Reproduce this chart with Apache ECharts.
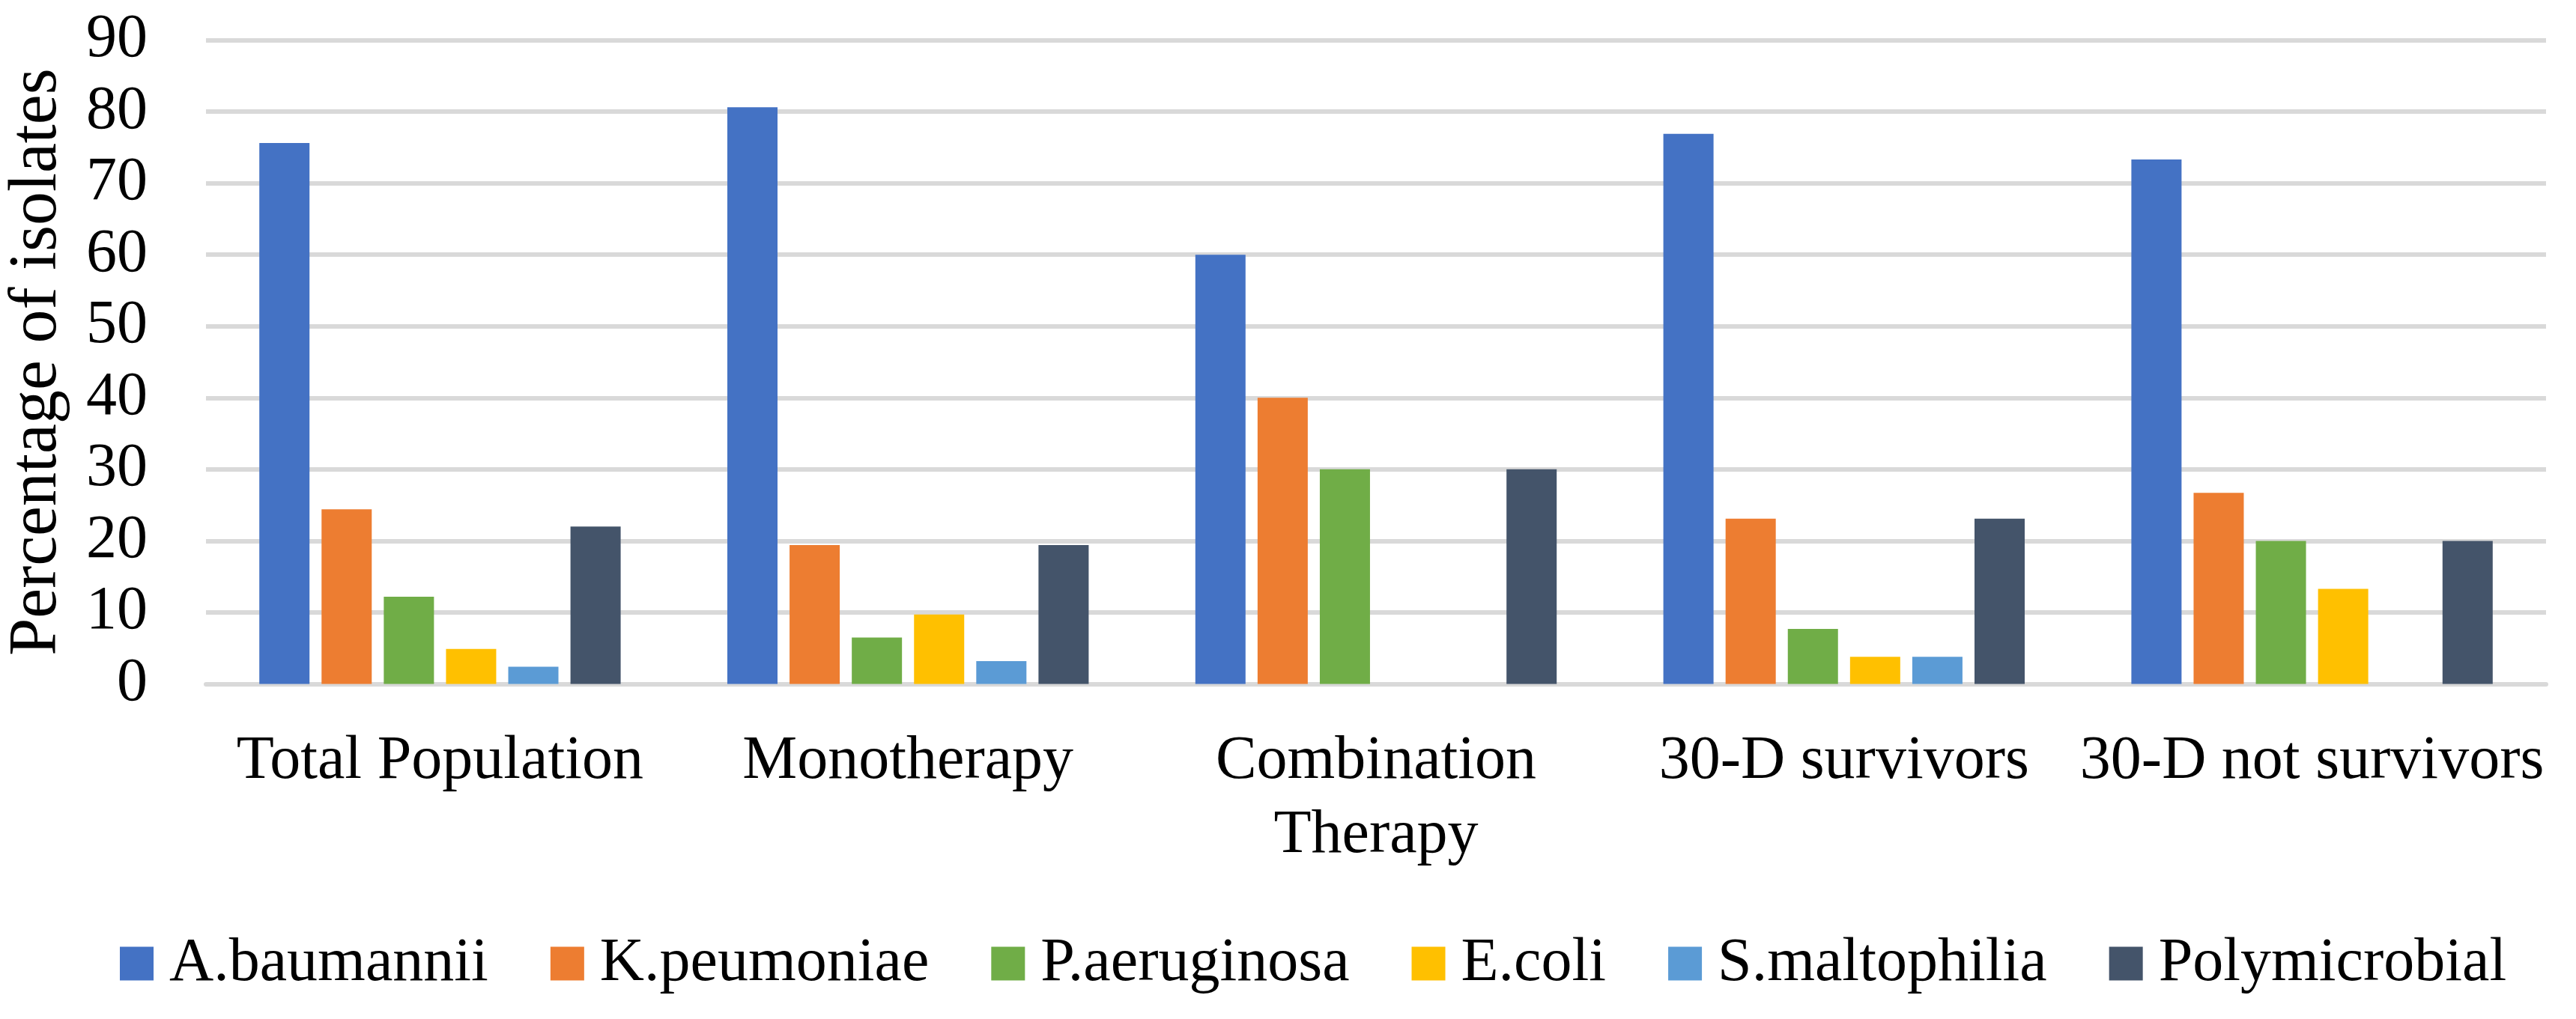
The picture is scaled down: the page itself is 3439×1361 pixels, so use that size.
<!DOCTYPE html>
<html>
<head>
<meta charset="utf-8">
<script src="https://cdn.jsdelivr.net/npm/echarts@6/dist/echarts.min.js"></script>
<style>
html,body{margin:0;padding:0;background:#fff;}
#chart{width:3439px;height:1361px;}
</style>
</head>
<body>
<div id="chart"></div>
<script>
const categories = ['Total Population', 'Monotherapy', 'Combination\nTherapy', '30-D survivors', '30-D not survivors'];
const seriesNames = ['A.baumannii', 'K.peumoniae', 'P.aeruginosa', 'E.coli', 'S.maltophilia', 'Polymicrobial'];
const aBaumannii = [75.6, 80.6, 60, 76.9, 73.3];
const kPneumoniae = [24.4, 19.4, 40, 23.1, 26.7];
const pAeruginosa = [12.2, 6.5, 30, 7.7, 20];
const eColi = [4.9, 9.7, 0, 3.8, 13.3];
const sMaltophilia = [2.4, 3.2, 0, 3.8, 0];
const polymicrobial = [22.0, 19.4, 30, 23.1, 20];
const yTicks = [0, 10, 20, 30, 40, 50, 60, 70, 80, 90];

const colors = ['#4472C4', '#ED7D31', '#70AD47', '#FFC000', '#5B9BD5', '#44546A'];
const values = [aBaumannii, kPneumoniae, pAeruginosa, eColi, sMaltophilia, polymicrobial];
const FONT = '"Liberation Serif", serif';

const chart = echarts.init(document.getElementById('chart'));
chart.setOption({
  animation: false,
  backgroundColor: '#fff',
  color: colors,
  grid: { left: 275, right: 40, top: 53.5, bottom: 447.5, containLabel: false, outerBoundsMode: 'none' },
  legend: {
    data: seriesNames,
    left: 155,
    top: 1241,
    itemWidth: 45,
    itemHeight: 45,
    itemGap: 83,
    icon: 'rect',
    textStyle: { fontFamily: FONT, fontSize: 82, color: '#000', padding: [0, 0, 0, 16] }
  },
  xAxis: {
    type: 'category',
    data: categories,
    axisLine: { show: true, lineStyle: { color: '#D9D9D9', width: 6 } },
    axisTick: { show: false },
    axisLabel: { fontFamily: FONT, fontSize: 82, color: '#000', margin: 54, lineHeight: 99, interval: 0 }
  },
  yAxis: {
    type: 'value',
    min: yTicks[0],
    max: yTicks[yTicks.length - 1],
    interval: 10,
    name: 'Percentage of isolates',
    nameLocation: 'middle',
    nameGap: 180,
    nameTextStyle: { fontFamily: FONT, fontSize: 90, color: '#000' },
    axisLine: { show: false },
    axisTick: { show: false },
    axisLabel: { fontFamily: FONT, fontSize: 82, color: '#000', margin: 78 },
    splitLine: { lineStyle: { color: '#D9D9D9', width: 6 } }
  },
  series: seriesNames.map((name, i) => ({
    name: name,
    type: 'bar',
    data: values[i],
    barWidth: 67,
    barGap: '24%',
    itemStyle: { color: colors[i] }
  }))
});
</script>
</body>
</html>
